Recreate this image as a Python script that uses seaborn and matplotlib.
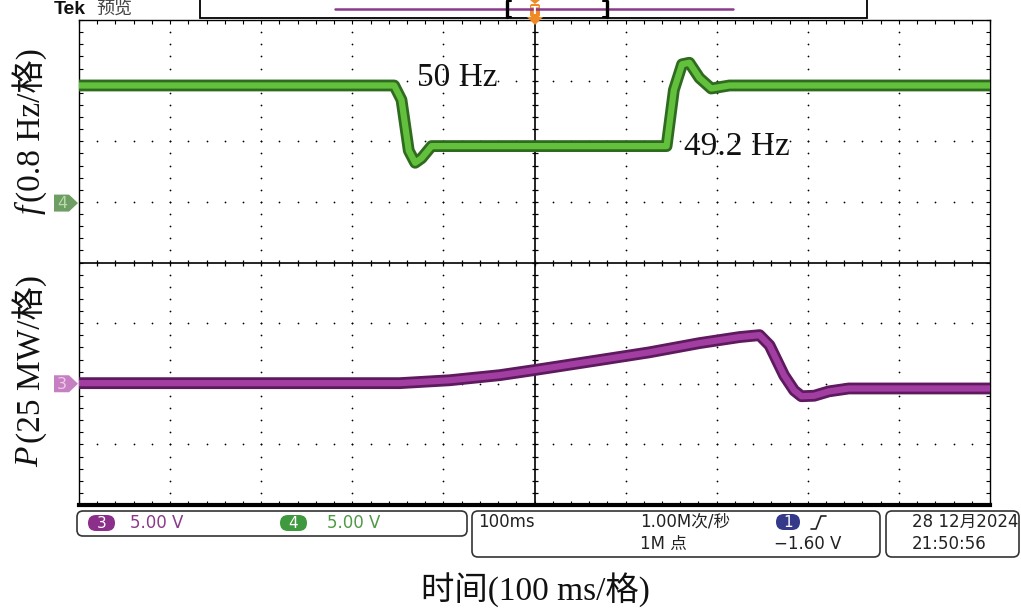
import numpy as np
import matplotlib
matplotlib.use("Agg")
import matplotlib.pyplot as plt
import seaborn as sns
from matplotlib.patches import FancyBboxPatch, Polygon, Rectangle

# ===============================
# Data read from the scope screen
# ===============================

# channel 4: grid frequency (Hz), time in ms relative to trigger
freq_t_ms = [-500, -154, -146, -138, -131, -124, -113, -104, 145, 153, 162, 170, 181, 194, 214, 500]
freq_hz = [50.0, 50.0, 49.81, 49.14, 48.98, 49.04, 49.2, 49.2, 49.2, 49.94, 50.28, 50.30, 50.10, 49.96, 50.0, 50.0]

# channel 3: active power change (MW)
pow_t_ms = [-500, -148, -93, -38, 0, 71, 126, 181, 225, 247, 258, 274, 285, 293, 307, 323, 345, 500]
pow_mw = [0, 0, 1.2, 3.3, 5.4, 9.5, 12.7, 16.5, 19.0, 19.8, 15.6, 3.2, -3.0, -5.4, -5.2, -3.4, -2.2, -2.2]

freq_label = "50 Hz"
freq_label2 = "49.2 Hz"
time_per_div = 100      # ms / div
freq_per_div = 0.8      # Hz / div
pow_per_div = 25        # MW / div

# screen positions (divisions) of the traces
freq_div = [2.92 + (f - 50.0) / freq_per_div for f in freq_hz]
pow_div = [-1.99 + p / pow_per_div for p in pow_mw]

# ===============================
# Figure
# ===============================

sns.set_theme(style="white")
plt.rcParams["font.family"] = ["DejaVu Sans", "Noto Sans CJK SC"]

W, H = 1021, 610
fig = plt.figure(figsize=(W / 100, H / 100), dpi=100)
fig.patch.set_facecolor("white")

L, R, T, B = 79, 990, 20, 505
ax = fig.add_axes([L / W, 1 - B / H, (R - L) / W, (B - T) / H])
ax.set_xlim(-500, 500)
ax.set_ylim(-4, 4)
ax.set_facecolor("white")

# dotted graticule
minor_x = np.arange(-500, 501, 20)
minor_y = np.arange(-4, 4.01, 0.2)
for gx in range(-400, 401, 100):
    if gx != 0:
        ax.scatter(np.full(len(minor_y), gx), minor_y, s=1.6, color="black", linewidths=0, zorder=1)
for gy in range(-3, 4):
    if gy != 0:
        ax.scatter(minor_x, np.full(len(minor_x), gy), s=1.6, color="black", linewidths=0, zorder=1)

# centre cross with ticks
ax.axhline(0, color="black", lw=1.2, zorder=1)
ax.axvline(0, color="black", lw=1.2, zorder=1)
ax.scatter(minor_x, np.zeros(len(minor_x)), marker="|", s=18, color="black", linewidths=0.9, zorder=1)
ax.scatter(np.zeros(len(minor_y)), minor_y, marker="_", s=18, color="black", linewidths=0.9, zorder=1)

# traces
sns.lineplot(x=freq_t_ms, y=freq_div, ax=ax, color="#2e6b1f", linewidth=8.5, estimator=None, sort=False, zorder=3)
sns.lineplot(x=freq_t_ms, y=freq_div, ax=ax, color="#62c03c", linewidth=4.5, estimator=None, sort=False, zorder=4)
sns.lineplot(x=pow_t_ms, y=pow_div, ax=ax, color="#5e1a5e", linewidth=8.5, estimator=None, sort=False, zorder=3)
sns.lineplot(x=pow_t_ms, y=pow_div, ax=ax, color="#a23ea2", linewidth=4.5, estimator=None, sort=False, zorder=4)

ax.set_xticks(minor_x)
ax.set_yticks(minor_y)
ax.tick_params(direction="in", length=3, width=0.8, color="black",
               top=True, bottom=True, left=True, right=True,
               labelbottom=False, labelleft=False)
ax.set_xlabel("")
ax.set_ylabel("")
for side in ["left", "right", "top"]:
    ax.spines[side].set_color("black")
    ax.spines[side].set_linewidth(1.0)
ax.spines["bottom"].set_color("black")
ax.spines["bottom"].set_linewidth(3)
ax.set_zorder(1)

# ===============================
# Overlay in pixel coordinates
# ===============================

ov = fig.add_axes([0, 0, 1, 1])
ov.set_xlim(0, W)
ov.set_ylim(H, 0)
ov.axis("off")
ov.patch.set_alpha(0)
ov.set_zorder(2)

serif = ["Liberation Serif", "Noto Sans CJK SC"]
sans = ["DejaVu Sans", "Noto Sans CJK SC"]

# top bar
ov.text(54, 9, "Tek", fontsize=14, fontweight="bold", family="Liberation Sans", va="center", color="#111111")
ov.text(96, 9, "预览", fontsize=13, family="Noto Sans CJK SC", va="center", color="#444444")
ov.add_patch(Rectangle((200, -2), 667, 20, facecolor="white", edgecolor="black", lw=1.3))
ov.plot([335, 733], [9, 9], color="#8b3a8b", lw=1.8)
for bx, d in [(507, 1), (607, -1)]:
    ov.plot([bx, bx], [1, 17], color="black", lw=2.4)
    ov.plot([bx, bx + 4 * d], [1, 1], color="black", lw=1.5)
    ov.plot([bx, bx + 4 * d], [17, 17], color="black", lw=1.5)
ov.add_patch(Polygon([(530, 0), (540, 0), (535, 4)], closed=True, facecolor="#f08a24", edgecolor="none"))
ov.add_patch(FancyBboxPatch((530, 4), 10, 13, boxstyle="round,pad=0,rounding_size=2",
                            facecolor="#f08a24", edgecolor="none"))
ov.add_patch(Polygon([(527, 17), (543, 17), (535, 25)], closed=True, facecolor="#f08a24", edgecolor="none"))
ov.text(535, 10.5, "T", fontsize=8, color="white", ha="center", va="center", fontweight="bold")

# channel ground markers
for y_div, fill, txt_c, lab in [(0.98, "#6f9e64", "#b5dca8", "4"), (-2.0, "#c67fc1", "#f0c8ec", "3")]:
    yp = T + (4 - y_div) * (B - T) / 8
    ov.add_patch(Polygon([(54, yp - 8.5), (69, yp - 8.5), (78, yp), (69, yp + 8.5), (54, yp + 8.5)],
                         closed=True, facecolor=fill, edgecolor="none"))
    ov.text(62, yp + 0.5, lab, fontsize=11.5, color=txt_c, ha="center", va="center")

# trace annotations
ov.text(417, 86, freq_label, fontsize=24, family=serif, va="baseline", color="#111111")
ov.text(684, 155, freq_label2, fontsize=24, family=serif, va="baseline", color="#111111")

# axis labels
ov.text(30, 205, "f", fontsize=24, family="Liberation Serif", style="italic", rotation=90,
        rotation_mode="anchor", ha="right", va="center", color="#111111")
ov.text(30, 202, "(0.8 Hz/格)", fontsize=24, family=serif, rotation=90,
        rotation_mode="anchor", ha="left", va="center", color="#111111")
ov.text(30, 447, "P", fontsize=24, family="Liberation Serif", style="italic", rotation=90,
        rotation_mode="anchor", ha="right", va="center", color="#111111")
ov.text(30, 443, "(25 MW/格)", fontsize=24, family=serif, rotation=90,
        rotation_mode="anchor", ha="left", va="center", color="#111111")
ov.text(535, 590, "时间(100 ms/格)", fontsize=24, family=serif, ha="center", va="center", color="#111111")

# status boxes
for x0, w, h in [(77, 390, 25), (472, 408, 46), (886, 133, 46)]:
    ov.add_patch(FancyBboxPatch((x0, 511), w, h, boxstyle="round,pad=0,rounding_size=6",
                                facecolor="white", edgecolor="#333333", lw=1.2))


def badge(x0, y0, w, color, lab):
    ov.add_patch(FancyBboxPatch((x0, y0), w, 16, boxstyle="round,pad=0,rounding_size=8",
                                facecolor=color, edgecolor="none"))
    ov.text(x0 + w / 2, y0 + 8.5, lab, fontsize=11, color="white", ha="center", va="center")


badge(88, 515, 27, "#8b2f8b", "3")
ov.text(130, 523.5, "5.00 V", fontsize=12, family=sans, color="#8b3a8b", va="center")
badge(280, 515, 27, "#3f9a3f", "4")
ov.text(327, 523.5, "5.00 V", fontsize=12, family=sans, color="#4f9a45", va="center")

ov.text(478, 522, "100ms", fontsize=12, family=sans, color="#222222", va="center")
ov.text(640, 522, "1.00M次/秒", fontsize=12, family=sans, color="#222222", va="center")
ov.text(640, 544, "1M 点", fontsize=12, family=sans, color="#222222", va="center")
badge(776, 514, 24, "#34398a", "1")
ov.plot([811, 816, 821, 826], [529, 529, 516, 516], color="#222222", lw=1.2)
ov.text(774, 544, "\u22121.60 V", fontsize=12, family=sans, color="#222222", va="center")
ov.text(912, 522, "28 12月2024", fontsize=12, family=sans, color="#222222", va="center")
ov.text(912, 544, "21:50:56", fontsize=12, family=sans, color="#222222", va="center")

plt.savefig("out.png", dpi=100)
